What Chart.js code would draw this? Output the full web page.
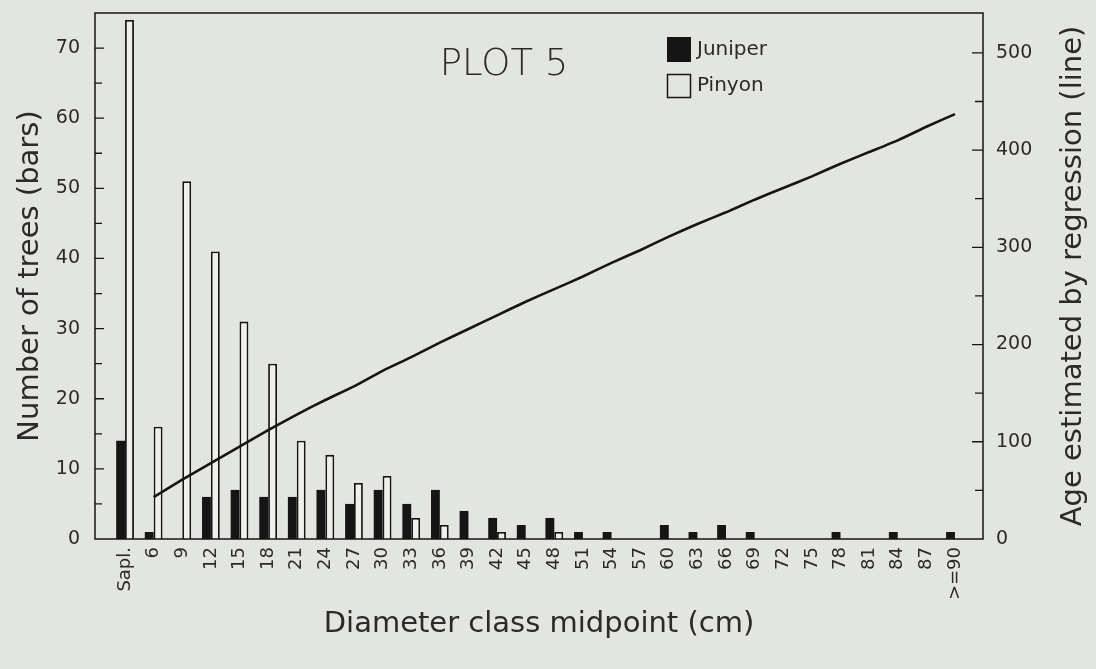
<!DOCTYPE html>
<html>
<head>
<meta charset="utf-8">
<script src="https://cdn.jsdelivr.net/npm/chart.js@4.4.1/dist/chart.umd.min.js"></script>
<style>
    html, body { margin: 0; padding: 0; background: #e3e6e0; }
    #wrap { width: 1096px; height: 669px; position: relative; }
</style>
</head>
<body>
<div id="wrap"><canvas id="canvas"></canvas></div>
<script>
// Diameter classes (cm) and tree counts
const classes = ['Sapl.', '6', '9', '12', '15', '18', '21', '24', '27', '30', '33', '36', '39', '42', '45',
    '48', '51', '54', '57', '60', '63', '66', '69', '72', '75', '78', '81', '84', '87', '>=90'];
const juniper = [14, 1, 0, 6, 7, 6, 6, 7, 5, 7, 5, 7, 4, 3, 2, 3, 1, 1, 0, 2, 1, 2, 1, 0, 0, 1, 0, 1, 0, 1];
const pinyon = [74, 16, 51, 41, 31, 25, 14, 12, 8, 9, 3, 2, 0, 1, 0, 1, 0, 0, 0, 0, 0, 0, 0, 0, 0, 0, 0, 0, 0, 0];
// regression age (right axis), no value for saplings
const ageLine = [null, 43, 61, 78, 95, 112, 128, 143, 157, 173, 187, 202, 216, 230, 244, 257, 270, 284, 297,
    311, 324, 336, 349, 361, 373, 386, 398, 410, 424, 437];
const countTicks = [0, 10, 20, 30, 40, 50, 60, 70];
const ageTicks = [0, 100, 200, 300, 400, 500];

const FONT = "'DejaVu Sans', sans-serif";
const INK = '#151515';
const BG = '#e3e6e0';

// frame, inside tick marks, titles, legend
const decor = {
    id: 'decor',
    beforeDraw(chart) {
        const c = chart.ctx;
        c.save();
        c.fillStyle = BG;
        c.fillRect(0, 0, chart.width, chart.height);
        c.restore();
    },
    afterDraw(chart) {
        const c = chart.ctx;
        const a = chart.chartArea;
        const y = chart.scales.y, y2 = chart.scales.y2;
        c.save();
        c.strokeStyle = INK;
        c.lineWidth = 1.5;
        c.strokeRect(a.left, a.top, a.right - a.left, a.bottom - a.top);

        c.lineWidth = 1.3;
        c.beginPath();
        for (let v = 5; v < 75; v += 5) {
            const py = y.getPixelForValue(v);
            c.moveTo(a.left, py);
            c.lineTo(a.left + (v % 10 === 0 ? 9 : 7), py);
        }
        for (let v = 50; v < 541; v += 50) {
            const py = y2.getPixelForValue(v);
            c.moveTo(a.right, py);
            c.lineTo(a.right - (v % 100 === 0 ? 11 : 8), py);
        }
        c.stroke();

        c.fillStyle = '#2a2a2a';
        c.textAlign = 'center';
        c.textBaseline = 'middle';
        c.font = '29px ' + FONT;
        c.fillText('Diameter class midpoint (cm)', (a.left + a.right) / 2, 624);

        c.save();
        c.translate(30, (a.top + a.bottom) / 2);
        c.rotate(-Math.PI / 2);
        c.fillText('Number of trees (bars)', 0, 0);
        c.restore();

        c.save();
        c.translate(1073, (a.top + a.bottom) / 2);
        c.rotate(-Math.PI / 2);
        c.fillText('Age estimated by regression (line)', 0, 0);
        c.restore();

        c.font = '300 37px ' + FONT;
        c.fillText('PLOT 5', 504, 65);

        // legend
        c.font = '20px ' + FONT;
        c.textAlign = 'left';
        c.fillStyle = INK;
        c.fillRect(667, 37, 24, 25);
        c.lineWidth = 1.5;
        c.strokeRect(667.5, 74.5, 23, 23);
        c.fillStyle = '#2a2a2a';
        c.fillText(chart.data.datasets[0].label, 697, 50);
        c.fillText(chart.data.datasets[1].label, 697, 86);
        c.restore();
    }
};

function tickFont(size) {
    return { family: FONT, size: size };
}

// drop the label-overhang padding Chart.js adds so the plot box sits where the figure has it
function noPad(s) {
    s.paddingTop = 0; s.paddingBottom = 0; s.paddingLeft = 0; s.paddingRight = 0;
}

const ctx = document.getElementById('canvas').getContext('2d');
const chart = new Chart(ctx, {
    type: 'bar',
    data: {
        datasets: [
            { label: 'Juniper', data: juniper.map((v, i) => ({ x: i, y: v })), backgroundColor: INK,
              borderWidth: 0, yAxisID: 'y', order: 2 },
            { label: 'Pinyon', data: pinyon.map((v, i) => ({ x: i, y: v })), backgroundColor: '#eef0eb',
              borderColor: INK, borderWidth: 1.8, yAxisID: 'y', order: 2 },
            { type: 'line', label: 'Age', data: ageLine.map((v, i) => ({ x: i, y: v })), borderColor: INK,
              borderWidth: 2.6, pointRadius: 0, tension: 0.2, yAxisID: 'y2', order: 1 }
        ]
    },
    options: {
        responsive: true,
        maintainAspectRatio: false,
        animation: false,
        layout: { padding: { top: 13, left: 0, right: 0, bottom: 0 } },
        datasets: { bar: { categoryPercentage: 0.62, barPercentage: 1.0 } },
        plugins: { legend: { display: false }, tooltip: { enabled: false } },
        scales: {
            x: {
                type: 'linear', min: -1.05, max: 29.98, offset: false,
                grid: { display: false, drawTicks: false }, border: { display: false },
                afterBuildTicks: (s) => { s.ticks = classes.map((c, i) => ({ value: i })); },
                afterFit: (s) => { s.height = 130; noPad(s); },
                ticks: { autoSkip: false, maxRotation: 90, minRotation: 90, padding: 8, color: '#2a2a2a',
                         font: tickFont(18), callback: (v) => classes[Math.round(v)] }
            },
            y: {
                position: 'left', min: 0, max: 75,
                grid: { display: false, drawTicks: false }, border: { display: false },
                afterBuildTicks: (s) => { s.ticks = countTicks.map(v => ({ value: v })); },
                afterFit: (s) => { s.width = 95; noPad(s); },
                ticks: { padding: 15, color: '#2a2a2a', font: tickFont(19) }
            },
            y2: {
                position: 'right', min: 0, max: 541,
                grid: { display: false, drawTicks: false }, border: { display: false },
                afterBuildTicks: (s) => { s.ticks = ageTicks.map(v => ({ value: v })); },
                afterFit: (s) => { s.width = 113; noPad(s); },
                ticks: { padding: 13, color: '#2a2a2a', font: tickFont(19) }
            }
        }
    },
    plugins: [decor]
});
</script>
</body>
</html>
